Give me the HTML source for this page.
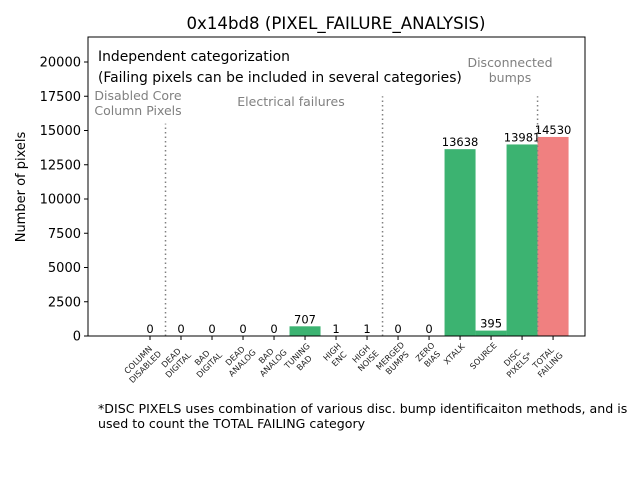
<!DOCTYPE html>
<html><head><meta charset="utf-8"><style>
body{margin:0;background:#fff;font-family:"DejaVu Sans","Liberation Sans",sans-serif}
svg text{font-family:"DejaVu Sans","Liberation Sans",sans-serif}
</style></head><body>
<svg id="c" width="640" height="480" xmlns="http://www.w3.org/2000/svg">
<rect width="640" height="480" fill="#fff"/>
<text x="336" y="29" font-size="16.6" text-anchor="middle">0x14bd8 (PIXEL_FAILURE_ANALYSIS)</text>
<text transform="translate(25,187) rotate(-90)" font-size="13" text-anchor="middle">Number of pixels</text>
<text x="98" y="61" font-size="13.9">Independent categorization</text>
<text x="98" y="82" font-size="13.9">(Failing pixels can be included in several categories)</text>
<g font-size="12.5" fill="#808080" text-anchor="middle">
<text x="138" y="100"><tspan x="138">Disabled Core</tspan><tspan x="138" dy="15">Column Pixels</tspan></text>
<text x="291" y="106">Electrical failures</text>
<text x="510" y="67"><tspan x="510">Disconnected</tspan><tspan x="510" dy="15">bumps</tspan></text>
</g>
<text x="98" y="413" font-size="12.6"><tspan x="98">*DISC PIXELS uses combination of various disc. bump identificaiton methods, and is</tspan><tspan x="98" dy="15">used to count the TOTAL FAILING category</tspan></text>
<g id="plot"></g>
</svg>
<script>
const categories=["COLUMN\nDISABLED","DEAD\nDIGITAL","BAD\nDIGITAL","DEAD\nANALOG","BAD\nANALOG","TUNING\nBAD","HIGH\nENC","HIGH\nNOISE","MERGED\nBUMPS","ZERO\nBIAS","XTALK","SOURCE","DISC\nPIXELS*","TOTAL\nFAILING"];
const values=[0,0,0,0,0,707,1,1,0,0,13638,395,13981,14530];
const yTicks=[0,2500,5000,7500,10000,12500,15000,17500,20000];
const separators=[[0.5,15500],[7.5,17500],[12.5,17500]];
const L=88,R=585,T=37,B=336,xmin=-2,xmax=14.03,ymax=21825;
const sx=v=>L+(v-xmin)/(xmax-xmin)*(R-L);
const sy=v=>B-v/ymax*(B-T);
const NS="http://www.w3.org/2000/svg";
const g=document.getElementById('plot');
function mk(t,a){const e=document.createElementNS(NS,t);for(const k in a)e.setAttribute(k,a[k]);g.appendChild(e);return e;}
const bw=(sx(1)-sx(0));
values.forEach((v,i)=>{
 const r=mk('rect',{x:sx(i-0.5),y:sy(v),width:bw,height:B-sy(v),fill:i===13?'#f08080':'#3cb371'});
 
 
 const t=mk('text',{x:sx(i),y:sy(v)-3,'font-size':11.5,'text-anchor':'middle'});
 t.textContent=v;
 
 
 const tk=mk('line',{x1:sx(i),x2:sx(i),y1:B,y2:B+4,stroke:'#000'});
 
 
 const lines=categories[i].split('\n');
 const lt=mk('text',{transform:`translate(${sx(i)+6},${B+10}) rotate(-45)`,'font-size':8.2,'text-anchor':'middle','fill':'#222'});
 
 
 const w=Math.max(...lines.map(s=>s.length))*2.8;
 lines.forEach((s,j)=>{const ts=document.createElementNS(NS,'tspan');ts.setAttribute('x',-w);ts.setAttribute('dy',j===0?0:10);ts.textContent=s;lt.appendChild(ts);});
});
separators.forEach(([x,h])=>{
 const l=mk('line',{x1:sx(x),x2:sx(x),y1:B,y2:sy(h),stroke:'#808080','stroke-width':1.5,'stroke-dasharray':'1.5,3'});
 
 
});
yTicks.forEach(v=>{
 const l=mk('line',{x1:L-4,x2:L,y1:sy(v),y2:sy(v),stroke:'#000'});
 
 
 const t=mk('text',{x:L-7,y:sy(v)+4.5,'font-size':13,'text-anchor':'end'});
 t.textContent=v;
 
 
});
const f=mk('rect',{x:L,y:T,width:R-L,height:B-T,fill:'none',stroke:'#000','stroke-width':1});


</script>
</body></html>
